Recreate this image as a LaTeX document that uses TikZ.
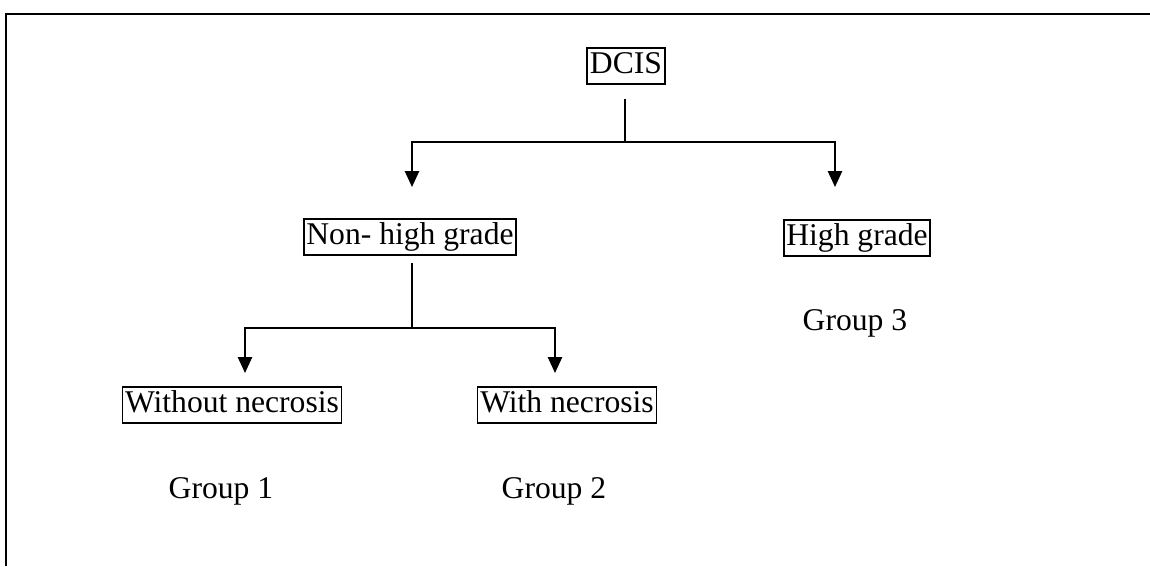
\documentclass[tikz,border=0pt]{standalone}
\usepackage{fontspec}
\setmainfont{Liberation Serif}
\usetikzlibrary{arrows.meta}
\tikzset{
    box/.style={draw, line width=1pt, inner sep=1.5pt, text height=13pt, text depth=4.5pt,
        font=\fontsize{18}{21}\selectfont},
    grp/.style={font=\fontsize{18}{21}\selectfont, inner sep=0pt},
    link/.style={line width=1.1pt},
    arr/.style={link, -{Triangle[length=9pt,width=8pt]}}
}
\begin{document}
\begin{tikzpicture}[x=0.02cm, y=-0.02cm]
    \useasboundingbox (0,0) rectangle (1150,566);
    \draw[line width=1.1pt] (6,566) -- (6,14) -- (1150,14);
    % boxes
    \node[box] (dcis) at (626,66) {DCIS};
    \node[box] (nonhigh) at (410,237) {Non- high grade};
    \node[box] (high) at (857,238) {High grade};
    \node[box] (without) at (232,405) {Without necrosis};
    \node[box] (with) at (567,405) {With necrosis};
    % groups
    \node[grp, anchor=base] (g1) at (221,498) {Group 1};
    \node[grp, anchor=base] (g2) at (554,498) {Group 2};
    \node[grp, anchor=base] (g3) at (855,330) {Group 3};
    % first split
    \coordinate (split1) at (625,142);
    \coordinate (tipL) at (412,187);
    \coordinate (tipR) at (835,187);
    \draw[link, shorten <=0.28cm] (dcis.south -| split1) -- (split1);
    \draw[arr] (split1) -| (tipL);
    \draw[arr] (split1) -| (tipR);
    % second split
    \coordinate (split2) at (412,328);
    \coordinate (tip1) at (245,373);
    \coordinate (tip2) at (555,373);
    \draw[link, shorten <=0.14cm] (nonhigh.south -| split2) -- (split2);
    \draw[arr] (split2) -| (tip1);
    \draw[arr] (split2) -| (tip2);
\end{tikzpicture}
\end{document}
